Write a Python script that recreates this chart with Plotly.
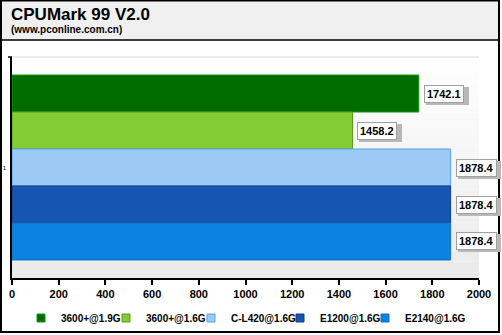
import plotly.graph_objects as go

categories = ["1"]
series_names = ["3600+@1.9G", "3600+@1.6G", "C-L420@1.6G", "E1200@1.6G", "E2140@1.6G"]
series_values = [1742.1, 1458.2, 1878.4, 1878.4, 1878.4]
series_labels = ["1742.1", "1458.2", "1878.4", "1878.4", "1878.4"]
x_ticks = [0, 200, 400, 600, 800, 1000, 1200, 1400, 1600, 1800, 2000]

bar_colors = ["#006c00", "#84cc34", "#9ccaf4", "#1656b2", "#0a82e2"]
bar_lines = ["#109a10", "#5c9a1c", "#5aa2e8", "#0c3c86", "#1a6cc0"]

W, H = 502, 335
L, R, T, B = 12, 23, 57, 57
PW, PH = W - L - R, H - T - B
BARGAP = 0.163
# left pixel of each legend entry's text in the reference
LEGEND_TEXT_X = [60, 145, 230, 319, 404]


def px(x):
    return (x - L) / PW


def py(y):
    return (H - B - y) / PH


fig = go.Figure()
for name, val, col, lc in zip(series_names, series_values, bar_colors, bar_lines):
    fig.add_trace(go.Bar(
        y=categories, x=[val], name=name, orientation="h",
        marker=dict(color=col, line=dict(color=lc, width=1)),
        hoverinfo="x+name", showlegend=False, legendgroup=name,
    ))
legend_ids = ["legend"] + [f"legend{k + 1}" for k in range(1, len(series_names))]
for name, col, lc, lid in zip(series_names, bar_colors, bar_lines, legend_ids):
    fig.add_trace(go.Scatter(
        x=[None], y=[None], name=name, mode="markers", legendgroup=name, legend=lid,
        marker=dict(symbol="square", size=8, color=col, line=dict(color=lc, width=1)),
        showlegend=True, hoverinfo="skip",
    ))

shapes = []
n = 40
for i in range(n):
    t = i / (n - 1)
    c = int(round(255 - t * (255 - 234)))
    shapes.append(dict(type="rect", xref="paper", yref="paper",
                       x0=0, x1=1, y0=1 - (i + 1) / n, y1=1 - i / n,
                       fillcolor=f"rgb({c},{c},{c})", line=dict(width=0), layer="below"))
shapes.append(dict(type="rect", xref="paper", yref="paper", x0=px(0), x1=px(500),
                   y0=py(40), y1=py(0), fillcolor="#f0f0f0", line=dict(width=0), layer="below"))
shapes.append(dict(type="line", xref="paper", yref="paper", x0=px(1), x1=px(499),
                   y0=py(40), y1=py(40), line=dict(color="#000000", width=1.5)))
shapes.append(dict(type="line", xref="paper", yref="paper", x0=0, x1=1, y0=1, y1=1,
                   line=dict(color="#d8d8d8", width=1)))
shapes.append(dict(type="line", xref="paper", yref="paper", x0=px(8), x1=0, y0=1, y1=1,
                   line=dict(color="#000000", width=1.5)))
shapes.append(dict(type="rect", xref="paper", yref="paper", x0=px(1), x1=px(499),
                   y0=py(332), y1=py(0.5), line=dict(color="#000000", width=2)))

n_s = len(series_names)
w = (1 - BARGAP) / n_s
lab_font = dict(family="Liberation Sans, Arial", size=11, color="#000", weight="bold")
annotations = []
for i, (val, lab) in enumerate(zip(series_values, series_labels)):
    yc = -(1 - BARGAP) / 2 + w * (i + 0.5)
    annotations.append(dict(x=val, y=yc, xref="x", yref="y", text="\u2007" * len(lab), showarrow=False,
                            xanchor="left", yanchor="middle", xshift=7, yshift=-2,
                            font=lab_font,
                            bgcolor="#b8b8b8", bordercolor="#b8b8b8", borderwidth=1, borderpad=2))
    annotations.append(dict(x=val, y=yc, xref="x", yref="y", text=lab, showarrow=False,
                            xanchor="left", yanchor="middle", xshift=5,
                            font=lab_font,
                            bgcolor="#ffffff", bordercolor="#a0a0a0", borderwidth=1, borderpad=2))

annotations.append(dict(x=px(9), y=py(14), xref="paper", yref="paper", text="CPUMark 99 V2.0",
                        showarrow=False, xanchor="left", yanchor="middle",
                        font=dict(family="Liberation Sans, Arial", size=17, color="#000", weight="bold")))
annotations.append(dict(x=px(9), y=py(29), xref="paper", yref="paper", text="(www.pconline.com.cn)",
                        showarrow=False, xanchor="left", yanchor="middle",
                        font=dict(family="Liberation Sans, Arial", size=10, color="#000", weight="bold")))

leg_font = dict(family="Liberation Sans, Arial", size=10, color="#000", weight="bold")
legends = {}
for lid, tx in zip(legend_ids, LEGEND_TEXT_X):
    legends[lid] = dict(orientation="h", xref="container", yref="container",
                        x=(tx - 39) / W, xanchor="left", y=1 - 318 / H, yanchor="middle",
                        font=leg_font, bgcolor="rgba(0,0,0,0)", itemwidth=30)

fig.update_layout(
    width=W, height=H,
    margin=dict(l=L, r=R, t=T, b=B, pad=0, autoexpand=False),
    paper_bgcolor="#ffffff", plot_bgcolor="rgba(0,0,0,0)",
    barmode="group", bargap=BARGAP, bargroupgap=0,
    showlegend=True,
    shapes=shapes, annotations=annotations,
    xaxis=dict(range=[0, 2000], tickvals=x_ticks, ticktext=[str(v) for v in x_ticks],
               showgrid=False, zeroline=False, showline=True, linecolor="#000", linewidth=1.5,
               ticks="outside", ticklen=5, tickwidth=1.5, tickcolor="#000",
               tickfont=dict(family="Liberation Sans, Arial", size=11, color="#000", weight="bold"),
               fixedrange=True),
    yaxis=dict(type="category", range=[0.5, -0.5], showgrid=False, zeroline=False,
               showline=True, linecolor="#000", linewidth=1.5, ticks="",
               tickfont=dict(family="Liberation Sans, Arial", size=6, color="#000"),
               ticklabelstandoff=3, fixedrange=True),
    **legends,
)

fig.write_html("out.html")
